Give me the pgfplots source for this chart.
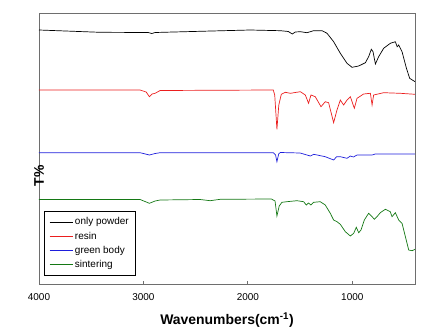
\documentclass[border=0pt]{standalone}
\usepackage{fontspec}
\setmainfont{Liberation Sans}
\usepackage{pgfplots}
\pgfplotsset{compat=1.18}
\definecolor{axgray}{RGB}{110,110,110}
\definecolor{cred}{RGB}{235,30,30}
\definecolor{cblue}{RGB}{30,30,220}
\definecolor{cgreen}{RGB}{20,120,20}
\begin{document}
\begin{tikzpicture}
\begin{axis}[
  scale only axis, width=376bp, height=271bp,
  x dir=reverse, xmin=400, xmax=4000,
  y dir=reverse, ymin=13, ymax=284,
  xtick={1000,2000,3000,4000},
  ytick=\empty,
  axis line style={axgray, line width=0.9pt},
  tick style={axgray, line width=0.8pt},
  xtick pos=bottom, tick align=inside, major tick length=3.5bp,
  /pgf/number format/assume math mode=true,
  /pgf/number format/1000 sep={},
  tick label style={font=\fontsize{10}{12}\selectfont},
  xticklabel style={yshift=-6bp},
  xlabel={\textbf{Wavenumbers(cm\textsuperscript{-1})}},
  ylabel={\textbf{T\%}},
  xlabel style={font=\fontsize{14}{16}\selectfont, at={(rel axis cs:0.5,0)}, anchor=center, yshift=-36bp},
  ylabel style={font=\fontsize{14}{16}\selectfont, at={(rel axis cs:0,0.5)}, anchor=center, rotate=0, xshift=-27.5bp},
  legend style={at={(rel axis cs:0.013,0.03)}, anchor=south west, draw=black, line width=0.6pt,
    font=\fontsize{10}{11}\selectfont, row sep=1.5bp, inner xsep=5bp, inner ysep=4.5bp, cells={anchor=west}},
  legend image post style={line width=0.8pt},
  legend image code/.code={\draw[#1] (2bp,0bp) -- (25bp,0bp);},
  every axis plot/.append style={line width=0.7pt},
]
\addplot[black] coordinates {
(4000,30) (3415,32.3) (2955,32.5) (2920,33.5) (2888,32.5) (2457,31.3) (1978,30) (1690,30.7)
(1613,31.5) (1575,34) (1546,32) (1498,31.7) (1434,32.7) (1371,30.7) (1290,30.7) (1242,33.3)
(1179,41.7) (1115,53.3) (1051,63.3) (1003,67.3) (939,66) (875,62.7) (844,56.7) (818,49.3)
(802,51.7) (779,64) (748,56.7) (700,48.3) (636,43.3) (588,41.7) (571,46.7) (556,45)
(524,51.7) (482,68.3) (451,78.3) (400,81.7)};
\addlegendentry{only powder}
\addplot[cred] coordinates {
(4000,90) (3032,90) (2974,92) (2943,96.7) (2917,94) (2888,93.3) (2840,90.5) (1757,90)
(1743,95) (1722,129.3) (1704,105) (1680,94.3) (1642,92.3) (1594,93.3) (1498,91.7) (1450,95)
(1419,103.3) (1396,95) (1355,96.7) (1300,106.7) (1259,101.7) (1227,102.7) (1179,122.7)
(1147,110) (1115,100) (1083,105) (1051,100) (1019,96.7) (981,108.3) (955,98.3) (892,94)
(827,93.3) (811,105) (796,95) (700,92.7) (540,93.3) (400,94.3)};
\addlegendentry{resin}
\addplot[cblue] coordinates {
(4000,152.7) (3032,152.7) (2943,155) (2888,153.5) (2840,152.7) (1757,152.7) (1735,155)
(1722,161.7) (1705,154) (1690,152.5) (1500,153) (1402,156) (1370,154.3) (1259,156.7)
(1179,160) (1150,156.7) (1115,156.7) (1051,158.3) (1019,156) (990,157) (955,155) (811,155)
(780,154) (400,154)};
\addlegendentry{green body}
\addplot[cgreen] coordinates {
(4000,199.5) (3032,199.5) (2943,203.3) (2888,201) (2840,200) (2457,199.5) (2361,200.7)
(2265,199.3) (1775,199) (1740,201) (1722,216) (1700,206) (1674,202.3) (1626,201.7)
(1530,200.7) (1466,201.7) (1441,205) (1420,203) (1396,205) (1371,202.3) (1307,201.7)
(1259,205) (1211,213.3) (1179,220) (1147,221.7) (1115,224.3) (1067,231.7) (1019,236)
(987,233.3) (962,227.3) (939,232.7) (917,230) (885,220) (844,213.3) (811,216.7) (789,219.3)
(764,216.7) (732,212.7) (684,209.3) (636,211.7) (620,216.7) (588,212.7) (556,220) (524,223.3)
(492,236.7) (460,250) (428,250.7) (400,249.3)};
\addlegendentry{sintering}
\end{axis}
\useasboundingbox (-39bp,-51bp) rectangle (385bp,284bp);
\end{tikzpicture}
\end{document}
